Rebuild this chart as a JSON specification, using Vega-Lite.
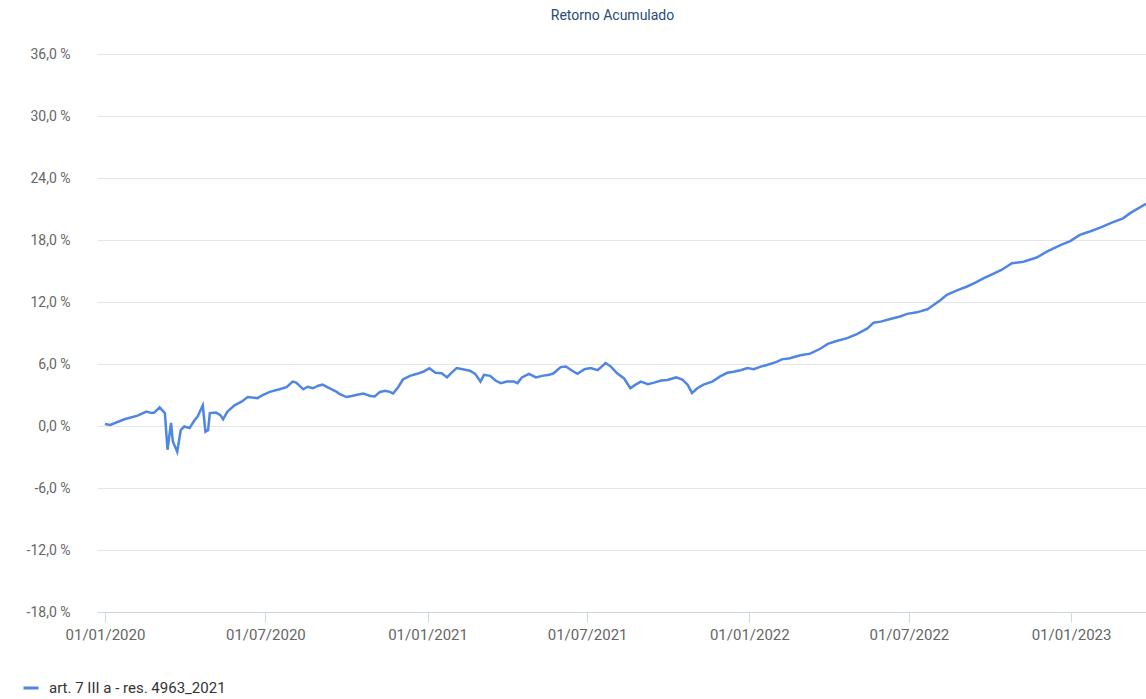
{
  "$schema": "https://vega.github.io/schema/vega-lite/v6.json",
  "width": 1049,
  "height": 558,
  "autosize": {"type": "none"},
  "padding": {"left": 97, "top": 54, "right": 0, "bottom": 87},
  "background": "#ffffff",
  "title": {
    "text": "Retorno Acumulado",
    "color": "#274b7a",
    "font": "Roboto",
    "fontSize": 14,
    "fontWeight": "normal",
    "anchor": "middle",
    "dx": -9,
    "offset": 24
  },
  "data": {
    "values": [
      {"date": "2020-01-01", "ret": 0.2},
      {"date": "2020-01-07", "ret": 0.1},
      {"date": "2020-01-23", "ret": 0.65},
      {"date": "2020-02-07", "ret": 1.0},
      {"date": "2020-02-17", "ret": 1.4},
      {"date": "2020-02-23", "ret": 1.25},
      {"date": "2020-02-26", "ret": 1.3},
      {"date": "2020-03-03", "ret": 1.8},
      {"date": "2020-03-09", "ret": 1.25},
      {"date": "2020-03-12", "ret": -2.3},
      {"date": "2020-03-16", "ret": 0.3},
      {"date": "2020-03-18", "ret": -1.5},
      {"date": "2020-03-23", "ret": -2.5},
      {"date": "2020-03-27", "ret": -0.4},
      {"date": "2020-03-31", "ret": -0.05},
      {"date": "2020-04-06", "ret": -0.2},
      {"date": "2020-04-12", "ret": 0.6},
      {"date": "2020-04-15", "ret": 0.9},
      {"date": "2020-04-21", "ret": 2.0},
      {"date": "2020-04-24", "ret": -0.55},
      {"date": "2020-04-27", "ret": -0.4},
      {"date": "2020-04-29", "ret": 1.25},
      {"date": "2020-05-06", "ret": 1.3},
      {"date": "2020-05-11", "ret": 1.05},
      {"date": "2020-05-14", "ret": 0.65},
      {"date": "2020-05-19", "ret": 1.4},
      {"date": "2020-05-27", "ret": 2.0},
      {"date": "2020-06-04", "ret": 2.35},
      {"date": "2020-06-11", "ret": 2.8},
      {"date": "2020-06-22", "ret": 2.7},
      {"date": "2020-06-28", "ret": 3.0},
      {"date": "2020-07-06", "ret": 3.3},
      {"date": "2020-07-17", "ret": 3.55},
      {"date": "2020-07-25", "ret": 3.75},
      {"date": "2020-08-01", "ret": 4.3},
      {"date": "2020-08-05", "ret": 4.2},
      {"date": "2020-08-13", "ret": 3.55},
      {"date": "2020-08-18", "ret": 3.8},
      {"date": "2020-08-24", "ret": 3.65},
      {"date": "2020-08-30", "ret": 3.9},
      {"date": "2020-09-04", "ret": 4.0},
      {"date": "2020-09-12", "ret": 3.65},
      {"date": "2020-09-20", "ret": 3.3},
      {"date": "2020-09-23", "ret": 3.1},
      {"date": "2020-10-01", "ret": 2.8},
      {"date": "2020-10-07", "ret": 2.9},
      {"date": "2020-10-12", "ret": 3.0},
      {"date": "2020-10-20", "ret": 3.15},
      {"date": "2020-10-28", "ret": 2.9},
      {"date": "2020-11-02", "ret": 2.85},
      {"date": "2020-11-08", "ret": 3.3},
      {"date": "2020-11-14", "ret": 3.4},
      {"date": "2020-11-19", "ret": 3.3},
      {"date": "2020-11-23", "ret": 3.15},
      {"date": "2020-11-29", "ret": 3.8},
      {"date": "2020-12-04", "ret": 4.5},
      {"date": "2020-12-12", "ret": 4.85},
      {"date": "2020-12-20", "ret": 5.05},
      {"date": "2020-12-27", "ret": 5.25},
      {"date": "2021-01-03", "ret": 5.6},
      {"date": "2021-01-10", "ret": 5.15},
      {"date": "2021-01-17", "ret": 5.1},
      {"date": "2021-01-23", "ret": 4.7},
      {"date": "2021-01-28", "ret": 5.15},
      {"date": "2021-02-03", "ret": 5.6},
      {"date": "2021-02-10", "ret": 5.5},
      {"date": "2021-02-18", "ret": 5.35},
      {"date": "2021-02-24", "ret": 5.05},
      {"date": "2021-03-02", "ret": 4.3},
      {"date": "2021-03-06", "ret": 4.95},
      {"date": "2021-03-13", "ret": 4.85},
      {"date": "2021-03-19", "ret": 4.4},
      {"date": "2021-03-25", "ret": 4.15},
      {"date": "2021-04-01", "ret": 4.3},
      {"date": "2021-04-09", "ret": 4.3},
      {"date": "2021-04-13", "ret": 4.15},
      {"date": "2021-04-18", "ret": 4.7},
      {"date": "2021-04-26", "ret": 5.05},
      {"date": "2021-05-04", "ret": 4.7},
      {"date": "2021-05-11", "ret": 4.85},
      {"date": "2021-05-19", "ret": 4.95},
      {"date": "2021-05-24", "ret": 5.1},
      {"date": "2021-06-01", "ret": 5.7},
      {"date": "2021-06-07", "ret": 5.75},
      {"date": "2021-06-14", "ret": 5.35},
      {"date": "2021-06-20", "ret": 5.05},
      {"date": "2021-06-28", "ret": 5.5},
      {"date": "2021-07-05", "ret": 5.6},
      {"date": "2021-07-13", "ret": 5.4},
      {"date": "2021-07-22", "ret": 6.1},
      {"date": "2021-07-28", "ret": 5.75},
      {"date": "2021-08-04", "ret": 5.1},
      {"date": "2021-08-12", "ret": 4.6},
      {"date": "2021-08-19", "ret": 3.65},
      {"date": "2021-08-25", "ret": 4.0},
      {"date": "2021-08-31", "ret": 4.3},
      {"date": "2021-09-08", "ret": 4.05},
      {"date": "2021-09-15", "ret": 4.2},
      {"date": "2021-09-23", "ret": 4.4},
      {"date": "2021-09-30", "ret": 4.45},
      {"date": "2021-10-10", "ret": 4.7},
      {"date": "2021-10-17", "ret": 4.5},
      {"date": "2021-10-23", "ret": 4.0},
      {"date": "2021-10-28", "ret": 3.2},
      {"date": "2021-11-03", "ret": 3.65},
      {"date": "2021-11-10", "ret": 4.0},
      {"date": "2021-11-20", "ret": 4.3},
      {"date": "2021-11-29", "ret": 4.8},
      {"date": "2021-12-07", "ret": 5.15},
      {"date": "2021-12-14", "ret": 5.25},
      {"date": "2021-12-22", "ret": 5.4},
      {"date": "2021-12-30", "ret": 5.6},
      {"date": "2022-01-06", "ret": 5.5},
      {"date": "2022-01-14", "ret": 5.75},
      {"date": "2022-01-21", "ret": 5.9},
      {"date": "2022-02-01", "ret": 6.2},
      {"date": "2022-02-07", "ret": 6.45},
      {"date": "2022-02-16", "ret": 6.55},
      {"date": "2022-02-28", "ret": 6.85},
      {"date": "2022-03-11", "ret": 7.0},
      {"date": "2022-03-23", "ret": 7.5},
      {"date": "2022-03-31", "ret": 7.95},
      {"date": "2022-04-11", "ret": 8.25},
      {"date": "2022-04-22", "ret": 8.5},
      {"date": "2022-05-03", "ret": 8.9},
      {"date": "2022-05-15", "ret": 9.45},
      {"date": "2022-05-22", "ret": 10.0},
      {"date": "2022-05-30", "ret": 10.1},
      {"date": "2022-06-10", "ret": 10.35},
      {"date": "2022-06-21", "ret": 10.6},
      {"date": "2022-06-29", "ret": 10.85},
      {"date": "2022-07-10", "ret": 11.0},
      {"date": "2022-07-22", "ret": 11.3},
      {"date": "2022-07-29", "ret": 11.7},
      {"date": "2022-08-06", "ret": 12.2},
      {"date": "2022-08-13", "ret": 12.7},
      {"date": "2022-08-24", "ret": 13.1},
      {"date": "2022-09-05", "ret": 13.5},
      {"date": "2022-09-15", "ret": 13.9},
      {"date": "2022-09-24", "ret": 14.3},
      {"date": "2022-10-04", "ret": 14.7},
      {"date": "2022-10-14", "ret": 15.1},
      {"date": "2022-10-26", "ret": 15.75},
      {"date": "2022-11-08", "ret": 15.9},
      {"date": "2022-11-23", "ret": 16.3},
      {"date": "2022-12-05", "ret": 16.9},
      {"date": "2022-12-20", "ret": 17.5},
      {"date": "2022-12-31", "ret": 17.9},
      {"date": "2023-01-11", "ret": 18.5},
      {"date": "2023-01-23", "ret": 18.85},
      {"date": "2023-02-03", "ret": 19.2},
      {"date": "2023-02-17", "ret": 19.7},
      {"date": "2023-03-01", "ret": 20.1},
      {"date": "2023-03-09", "ret": 20.6},
      {"date": "2023-03-27", "ret": 21.5}
    ]
  },
  "mark": {"type": "line", "strokeWidth": 2.5, "interpolate": "linear"},
  "encoding": {
    "x": {
      "field": "date",
      "type": "temporal",
      "scale": {
        "type": "utc",
        "domain": [
          {"year": 2019, "month": 12, "date": 23, "utc": true},
          {"year": 2023, "month": 3, "date": 27, "utc": true}
        ],
        "nice": false
      },
      "axis": {
        "title": null,
        "values": [
          {"year": 2020, "month": 1, "date": 1, "utc": true},
          {"year": 2020, "month": 7, "date": 1, "utc": true},
          {"year": 2021, "month": 1, "date": 1, "utc": true},
          {"year": 2021, "month": 7, "date": 1, "utc": true},
          {"year": 2022, "month": 1, "date": 1, "utc": true},
          {"year": 2022, "month": 7, "date": 1, "utc": true},
          {"year": 2023, "month": 1, "date": 1, "utc": true}
        ],
        "labelExpr": "utcFormat(datum.value, '%d/%m/%Y')",
        "grid": false,
        "domain": true,
        "domainColor": "#ccd6eb",
        "domainWidth": 1,
        "ticks": true,
        "tickColor": "#ccd6eb",
        "tickSize": 10,
        "tickWidth": 1,
        "labelFont": "Roboto",
        "labelFontSize": 15,
        "labelColor": "#666666",
        "labelPadding": 5,
        "labelFlush": false,
        "labelOverlap": false
      }
    },
    "y": {
      "field": "ret",
      "type": "quantitative",
      "scale": {"domain": [-18, 36], "nice": false, "zero": false},
      "axis": {
        "title": null,
        "values": [-18, -12, -6, 0, 6, 12, 18, 24, 30, 36],
        "labelExpr": "replace(replace(format(datum.value, '.1f'), '.', ','), '\u2212', '-') + ' %'",
        "grid": true,
        "gridColor": "#e6e6e6",
        "gridWidth": 1,
        "domain": false,
        "ticks": false,
        "tickSize": 0,
        "labelFont": "Roboto",
        "labelFontSize": 14,
        "labelColor": "#666666",
        "labelPadding": 27,
        "labelFlush": false,
        "labelOverlap": false
      }
    },
    "color": {
      "datum": "art. 7 III a - res. 4963_2021",
      "type": "nominal",
      "scale": {"range": ["#4f86e3"]},
      "legend": {
        "title": null,
        "orient": "none",
        "legendX": -75,
        "legendY": 625,
        "symbolType": "stroke",
        "symbolStrokeWidth": 3,
        "symbolSize": 225,
        "labelFont": "Roboto",
        "labelFontSize": 15,
        "labelColor": "#333333",
        "labelOffset": 9,
        "labelLimit": 500
      }
    }
  },
  "config": {
    "view": {"stroke": null}
  }
}
